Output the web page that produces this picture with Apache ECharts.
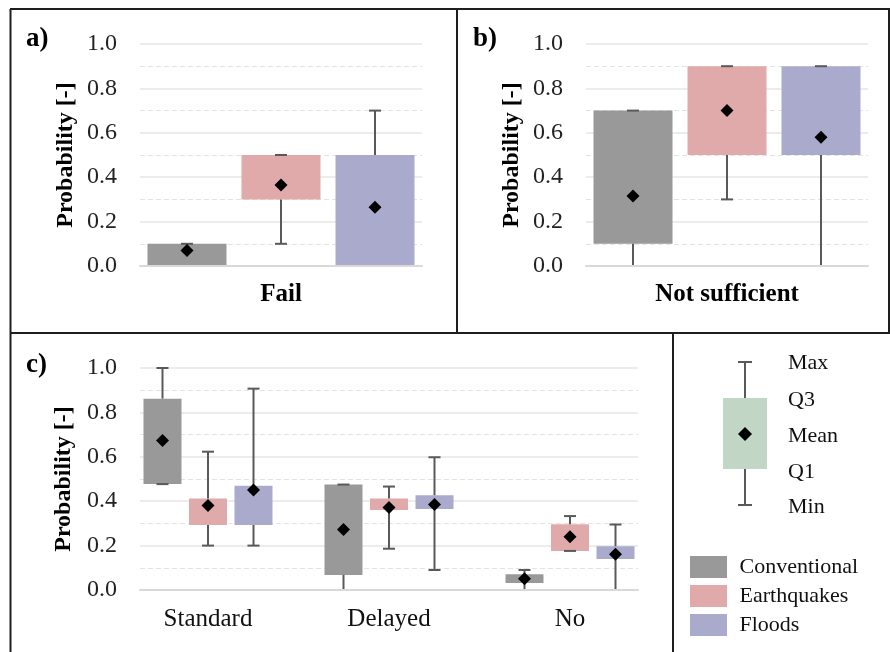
<!DOCTYPE html>
<html>
<head>
<meta charset="utf-8">
<script src="https://cdn.jsdelivr.net/npm/echarts@6/dist/echarts.min.js"></script>
<style>html,body{margin:0;padding:0;background:#fff;}#c{width:890px;height:652px;}</style>
</head>
<body>
<div id="c"></div>
<script>
// ---- data: each row = [min, Q1, Q3, max, mean] per category ----
const groups = ['Conventional', 'Earthquakes', 'Floods'];
const colors = ['#999999', '#e0aaaa', '#aaaacc'];

const catsA = ['Fail'];
const conventionalA = [[0, 0, 0.1, 0.1, 0.07]];
const earthquakesA  = [[0.1, 0.3, 0.5, 0.5, 0.365]];
const floodsA       = [[0, 0, 0.5, 0.7, 0.265]];

const catsB = ['Not sufficient'];
const conventionalB = [[0, 0.1, 0.7, 0.7, 0.315]];
const earthquakesB  = [[0.3, 0.5, 0.9, 0.9, 0.7]];
const floodsB       = [[0, 0.5, 0.9, 0.9, 0.58]];

const catsC = ['Standard', 'Delayed', 'No'];
const conventionalC = [[0.477, 0.477, 0.862, 1.0, 0.673], [0, 0.068, 0.475, 0.475, 0.272], [0, 0.032, 0.071, 0.09, 0.051]];
const earthquakesC  = [[0.2, 0.293, 0.412, 0.623, 0.381], [0.186, 0.36, 0.412, 0.466, 0.372], [0.176, 0.176, 0.296, 0.333, 0.24]];
const floodsC       = [[0.2, 0.293, 0.47, 0.907, 0.45], [0.09, 0.365, 0.427, 0.598, 0.385], [0, 0.14, 0.197, 0.295, 0.161]];

const yTicks = [0, 0.2, 0.4, 0.6, 0.8, 1.0];
const keyLabels = ['Max', 'Q3', 'Mean', 'Q1', 'Min'];

// ---- rendering ----
const SERIF = '"Liberation Serif", "Times New Roman", serif';
const chart = echarts.init(document.getElementById('c'), null, {renderer: 'canvas'});

function toData(rows) {
  return rows.map((r, i) => [i, r[0], r[1], r[2], r[3], r[4]]);
}

function makeRender(groupIdx, boxW, step, color) {
  return function (params, api) {
    const cat = api.value(0);
    const cx = api.coord([cat, 0])[0] + (groupIdx - 1) * step;
    const yMin = api.coord([cat, api.value(1)])[1];
    const yQ1 = api.coord([cat, api.value(2)])[1];
    const yQ3 = api.coord([cat, api.value(3)])[1];
    const yMax = api.coord([cat, api.value(4)])[1];
    const yMean = api.coord([cat, api.value(5)])[1];
    const ls = {stroke: '#595959', lineWidth: 2};
    const cap = 6;
    const ch = [];
    ch.push({type: 'rect', shape: {x: cx - boxW / 2, y: yQ3, width: boxW, height: Math.max(yQ1 - yQ3, 0)}, style: {fill: color}});
    if (yMax < yQ3 - 0.5) ch.push({type: 'line', shape: {x1: cx, y1: yQ3, x2: cx, y2: yMax}, style: ls});
    ch.push({type: 'line', shape: {x1: cx - cap, y1: yMax, x2: cx + cap, y2: yMax}, style: ls});
    if (yMin > yQ1 + 0.5) ch.push({type: 'line', shape: {x1: cx, y1: yQ1, x2: cx, y2: yMin}, style: ls});
    ch.push({type: 'line', shape: {x1: cx - cap, y1: yMin, x2: cx + cap, y2: yMin}, style: ls});
    const d = 6.5;
    ch.push({type: 'polygon', shape: {points: [[cx, yMean - d], [cx + d, yMean], [cx, yMean + d], [cx - d, yMean]]}, style: {fill: '#000'}});
    return {type: 'group', children: ch};
  };
}

function yAxisCfg(gi, show) {
  return {
    type: 'value', gridIndex: gi, min: 0, max: 1, interval: 0.2,
    show: show,
    name: show ? 'Probability [-]' : '',
    nameLocation: 'middle', nameGap: 62,
    nameTextStyle: {fontFamily: SERIF, fontSize: 24, fontWeight: 'bold', color: '#000'},
    axisLine: {show: false}, axisTick: {show: false},
    axisLabel: {show: show, margin: 23, fontFamily: SERIF, fontSize: 24, color: '#222',
      formatter: v => v.toFixed(1)},
    splitLine: {show: show, lineStyle: {color: '#e6e6e6', width: 1.5, type: 'solid'}},
    minorTick: {show: false, splitNumber: 2},
    minorSplitLine: {show: show, lineStyle: {color: '#e3e3e3', width: 1, type: [5, 3]}}
  };
}

function xAxisCfg(gi, cats, opts) {
  return Object.assign({
    type: 'category', gridIndex: gi, data: cats, z: 10,
    axisLine: {show: true, lineStyle: {color: '#d9d9d9', width: 2}},
    axisTick: {show: false},
    splitLine: {show: false},
    axisLabel: {show: true, margin: 16, fontFamily: SERIF, fontSize: 25, fontWeight: 'bold', color: '#000'}
  }, opts || {});
}

const series = [];
const panels = [
  {gx: 0, data: [conventionalA, earthquakesA, floodsA], w: 79, step: 94},
  {gx: 1, data: [conventionalB, earthquakesB, floodsB], w: 79, step: 94},
  {gx: 3, data: [conventionalC, earthquakesC, floodsC], w: 38, step: 45.5}
];
panels.forEach(p => {
  p.data.forEach((rows, gi) => {
    series.push({
      type: 'custom', name: groups[gi],
      xAxisIndex: p.gx, yAxisIndex: p.gx,
      itemStyle: {color: colors[gi]},
      encode: {x: 0, y: [1, 2, 3, 4, 5]},
      clip: false, z: 2,
      renderItem: makeRender(gi, p.w, p.step, colors[gi]),
      data: toData(rows)
    });
  });
});

const border = {stroke: '#1e1e1e', lineWidth: 2};
const graphics = [
  {type: 'line', shape: {x1: 10, y1: 9, x2: 890, y2: 9}, style: border, z: 50},
  {type: 'line', shape: {x1: 10.5, y1: 9, x2: 10.5, y2: 652}, style: border, z: 50},
  {type: 'line', shape: {x1: 10, y1: 333, x2: 890, y2: 333}, style: border, z: 50},
  {type: 'line', shape: {x1: 457, y1: 9, x2: 457, y2: 333}, style: border, z: 50},
  {type: 'line', shape: {x1: 889, y1: 9, x2: 889, y2: 333}, style: border, z: 50},
  {type: 'line', shape: {x1: 673, y1: 333, x2: 673, y2: 652}, style: border, z: 50},
  {type: 'text', left: 26, top: 26, style: {text: 'a)', font: 'bold 27px ' + SERIF, fill: '#000'}, z: 50},
  {type: 'text', left: 473, top: 26, style: {text: 'b)', font: 'bold 27px ' + SERIF, fill: '#000'}, z: 50},
  {type: 'text', left: 26, top: 352, style: {text: 'c)', font: 'bold 27px ' + SERIF, fill: '#000'}, z: 50},
  // box key
  {type: 'rect', shape: {x: 723, y: 398, width: 44, height: 71}, style: {fill: '#c1d6c4'}, z: 40},
  {type: 'line', shape: {x1: 745, y1: 362, x2: 745, y2: 398}, style: {stroke: '#595959', lineWidth: 2}, z: 41},
  {type: 'line', shape: {x1: 745, y1: 469, x2: 745, y2: 505}, style: {stroke: '#595959', lineWidth: 2}, z: 41},
  {type: 'line', shape: {x1: 738, y1: 362, x2: 752, y2: 362}, style: {stroke: '#595959', lineWidth: 2}, z: 41},
  {type: 'line', shape: {x1: 738, y1: 505, x2: 752, y2: 505}, style: {stroke: '#595959', lineWidth: 2}, z: 41},
  {type: 'polygon', shape: {points: [[745, 427], [752, 434], [745, 441], [738, 434]]}, style: {fill: '#000'}, z: 42}
];
const keyY = [363, 400, 436, 472, 507];
keyLabels.forEach((t, i) => {
  graphics.push({type: 'text', x: 788, y: keyY[i], style: {text: t, font: '22px ' + SERIF, fill: '#111', verticalAlign: 'middle', align: 'left'}, z: 42});
});

const option = {
  backgroundColor: '#fff',
  animation: false,
  grid: [
    {left: 140, top: 44, width: 282, height: 222},
    {left: 586, top: 44, width: 282, height: 222},
    {left: 140, top: 368, width: 498, height: 222},
    {left: 117.5, top: 368, width: 543, height: 222}
  ],
  xAxis: [
    xAxisCfg(0, catsA),
    xAxisCfg(1, catsB),
    xAxisCfg(2, catsC, {axisLabel: {show: false}}),
    xAxisCfg(3, catsC, {axisLine: {show: false},
      axisLabel: {show: true, margin: 17, fontFamily: SERIF, fontSize: 25, color: '#111'}})
  ],
  yAxis: [yAxisCfg(0, true), yAxisCfg(1, true), yAxisCfg(2, true), yAxisCfg(3, false)],
  legend: {
    data: groups, orient: 'vertical', left: 685, top: 551,
    itemWidth: 37, itemHeight: 22, itemGap: 7, icon: 'rect',
    textStyle: {fontFamily: SERIF, fontSize: 22, color: '#111', padding: [0, 0, 0, 7.5]},
    selectedMode: false
  },
  graphic: graphics,
  series: series
};
chart.setOption(option);
</script>
</body>
</html>
